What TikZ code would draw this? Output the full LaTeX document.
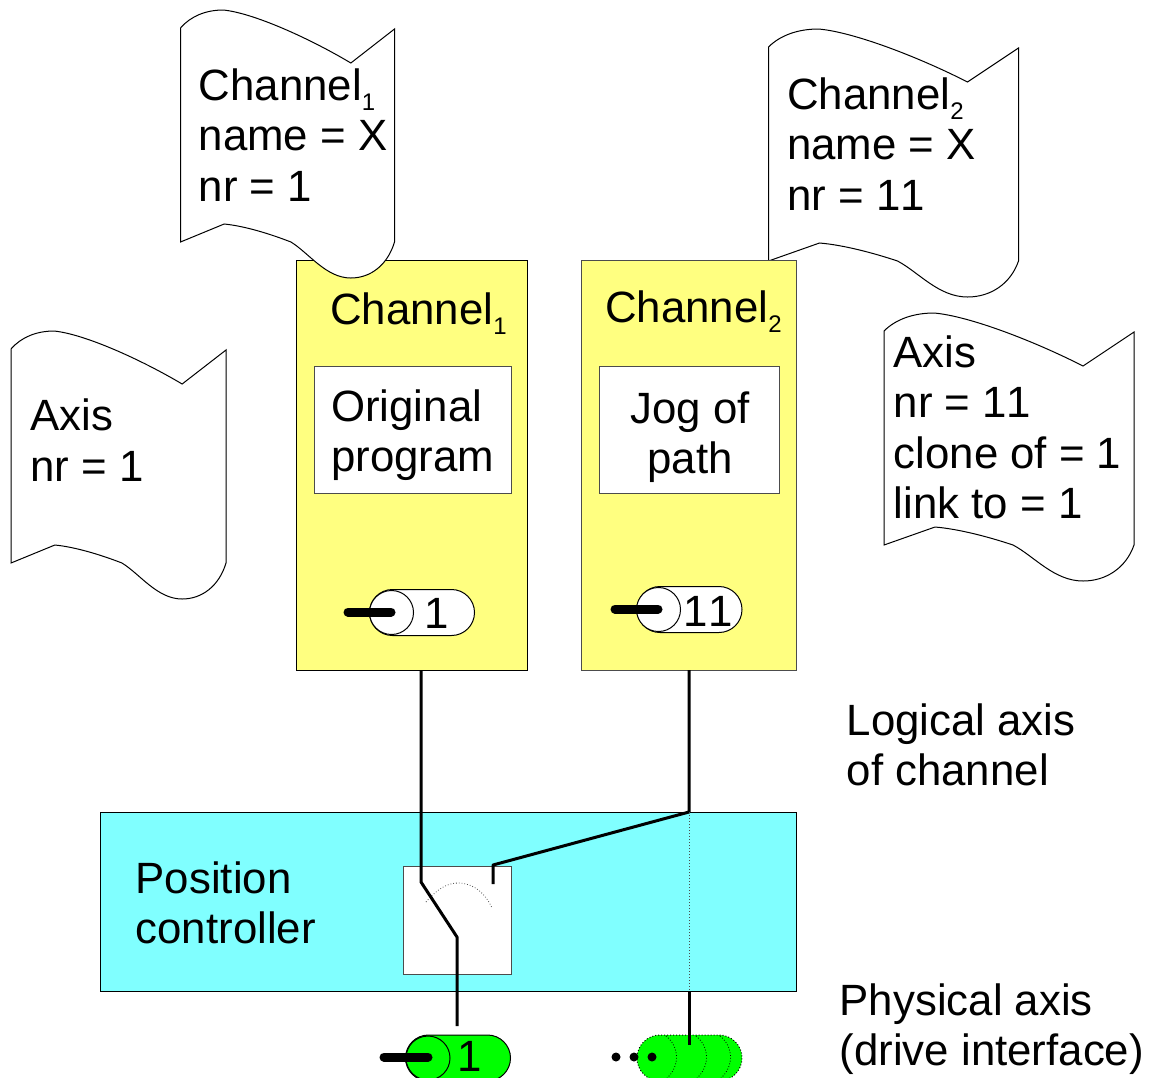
\documentclass[tikz,border=0pt]{standalone}
\usepackage{fontspec}
\setmainfont[Kerning=Off]{Liberation Sans}
\usetikzlibrary{shapes.misc}
\newcommand{\subnr}[1]{\raisebox{-10pt}{\fontsize{24}{24}\selectfont #1}}
% one sheet with a wavy top and bottom: left edge, top edge, x scale
\newcommand{\wavedoc}[3]{
\draw[docline, shift={(#1,#2)}, xscale=#3] (0,18) .. controls (12,6) and (30,0) .. (50,0)
.. controls (85,3) and (150,28) .. (199,53) -- (250,19) -- (250,232)
.. controls (242,255) and (222,268) .. (199,268) .. controls (170,268) and (150,243) .. (129,232)
.. controls (105,224) and (75,216) .. (51,214) -- (0,232) -- cycle;
}
\definecolor{panelyellow}{HTML}{FFFF80}
\definecolor{ctrlcyan}{HTML}{80FFFF}
\definecolor{drivegreen}{HTML}{00FF00}
\tikzset{
docline/.style={draw=black, fill=white, line width=1pt},
txt/.style={anchor=west, align=left, inner sep=0pt, font=\fontsize{43.8}{50.4}\selectfont},
txtc/.style={align=center, inner sep=0pt, font=\fontsize{43.8}{50.4}\selectfont},
nrtxt/.style={inner sep=0pt, font=\fontsize{43.8}{44}\selectfont},
panel/.style={draw=black, fill=panelyellow, line width=1pt, inner sep=0pt, outer sep=0pt, minimum width=231pt},
whitebox/.style={draw=black!70, fill=white, line width=1pt, inner sep=0pt, outer sep=0pt, minimum height=127pt},
pill/.style={rounded rectangle, draw=black, line width=1pt, fill=white, inner sep=0pt, minimum width=105pt, minimum height=46pt},
pillend/.style={circle, draw=black, line width=1pt, fill=white, inner sep=0pt, minimum size=44pt},
wire/.style={line width=3pt, line join=round},
stick/.style={line width=9pt, line cap=round},
blob/.style={circle, fill=black, inner sep=0pt, minimum size=9pt}
}
\begin{document}
\begin{tikzpicture}[x=1pt,y=-1pt]
\useasboundingbox (0,0) rectangle (1158,1077);
% channels and their sheets
\node[panel, minimum height=410pt] (CHA) at (412,465.5){};
\wavedoc{180.5}{10}{.856}
\wavedoc{768.5}{29}{1}
\node[panel, draw=black!70, minimum width=215pt, minimum height=410pt] (CHB) at (689,465.5){};
\wavedoc{11}{331}{.86}
\wavedoc{884}{313}{1}
\node[txt] (DOCA) at (198.5,135){Channel\subnr{1}\\name = X\\nr = 1};
\node[txt] (DOCB) at (787,144){Channel\subnr{2}\\name = X\\nr = 11};
\node[txt] (AXA) at (30,440){Axis\\nr = 1};
\node[txt] (AXB) at (893.5,427.5){Axis\\nr = 11\\clone of = 1\\link to = 1};
\node[txt] (TA) at (330,314){Channel\subnr{1}};
\node[txt] (TB) at (605,312){Channel\subnr{2}};
\node[whitebox, minimum width=197pt] (PROG) at (413,430){};
\node[txt] (PROGT) at (331,435){Original\\program};
\node[whitebox, minimum width=180pt] (JOG) at (689.5,430){};
\node[txtc] (JOGT) at (690,437){Jog of\\path};
% position controller
\node[draw=black, fill=ctrlcyan, line width=1pt, inner sep=0pt, outer sep=0pt, minimum width=696pt, minimum height=179pt] (PC) at (448.5,902){};
\node[txt] (PCT) at (135.5,903){Position\\controller};
\node[draw=black!70, fill=white, line width=1pt, inner sep=0pt, outer sep=0pt, minimum size=108pt] (SW) at (457.5,920){};
\draw[dotted, line width=.8pt, black!70] (426,902) .. controls (438,888) and (448,883) .. (458,883) .. controls (474,883) and (486,894) .. (492,908);
% channel axes
\node[pill] (PA) at (422,612.5){};
\node[pillend] (PAE) at (391.5,612.5){};
\node[nrtxt] (PAT) at (437,613){1};
\node[pill] (PB) at (689.5,609.5){};
\node[pillend] (PBE) at (658.5,609.5){};
\node[nrtxt] (PBT) at (708,611){11};
% drive interfaces
\node[pill, fill=drivegreen] (DA) at (458,1058){};
\node[pillend, fill=drivegreen] (DAE) at (428,1058){};
\node[nrtxt] (DAT) at (470,1056){1};
\node[pill, draw=black, dotted, fill=drivegreen] (DB) at (689.5,1058){};
\foreach \xa in {666,696,720}
\draw[dotted, line width=.8pt] (\xa,1036) .. controls (\xa+14,1047) and (\xa+14,1067) .. (\xa,1079);
\node[blob] (DTA) at (616,1057){};
\node[blob] (DTB) at (634,1057){};
\node[blob] (DTC) at (652,1057){};
% wires
\coordinate (A1) at (421,670);
\coordinate (A2) at (421,882);
\coordinate (A3) at (457,937);
\coordinate (A4) at (457,1026);
\coordinate (B1) at (689,670);
\coordinate (B2) at (689,812);
\coordinate (B3) at (493,865);
\coordinate (B4) at (493,884);
\coordinate (B5) at (689,991);
\coordinate (B6) at (689,1045);
\draw[wire] (A1) -- (A2) -- (A3) -- (A4);
\draw[wire] (B1) -- (B2) -- (B3) -- (B4);
\draw[dotted, line width=1pt, black!70] (B2) -- (B5);
\draw[wire] (B5) -- (B6);
\coordinate (SA1) at (348,612);
\coordinate (SA2) at (391,612);
\coordinate (SB1) at (615,609);
\coordinate (SB2) at (658,609);
\coordinate (SC1) at (384,1057);
\coordinate (SC2) at (428,1057);
\foreach \from/\to in {SA1/SA2,SB1/SB2,SC1/SC2}
\draw[stick] (\from) -- (\to);
% side labels
\node[txt] (LOG) at (846.5,745){Logical axis\\of channel};
\node[txt] (PHY) at (839.5,1029){Physical axis\\(drive interface)};
\end{tikzpicture}
\end{document}
